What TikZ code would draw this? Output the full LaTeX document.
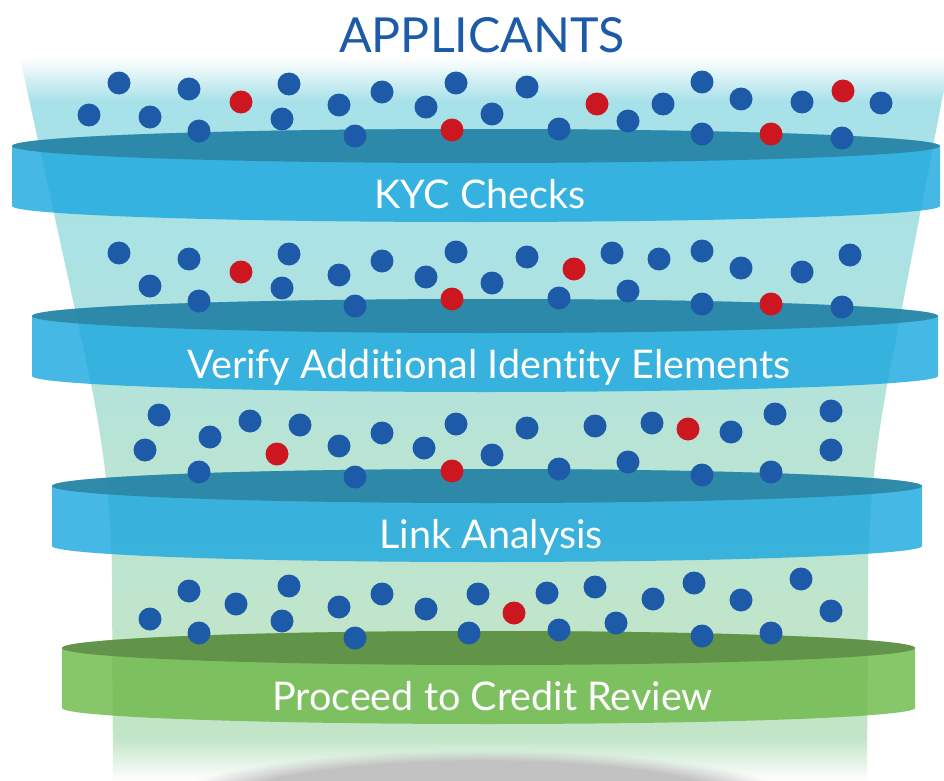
\documentclass[tikz,border=0pt]{standalone}
\usepackage{fontspec}
\setmainfont{Lato}[Ligatures=NoCommon]
\usepackage{tikz}
\usetikzlibrary{fadings}

\definecolor{dotblue}{HTML}{1D5AA7}
\definecolor{dotred}{HTML}{CD1720}
\definecolor{bandblue}{HTML}{1CA8DF}
\definecolor{bandtop}{HTML}{2C819E}
\definecolor{bandgreen}{HTML}{6EB949}
\definecolor{greentop}{HTML}{5C8A45}
\definecolor{funA}{HTML}{A7E1E9}
\definecolor{funB}{HTML}{ADE2E1}
\definecolor{funC}{HTML}{B9E4D5}
\definecolor{funD}{HTML}{C2E5C8}
\pgfdeclareverticalshading{funnelfill}{100bp}{color(0bp)=(white); color(25bp)=(white); color(28bp)=(funD); color(32bp)=(funD); color(48bp)=(funC); color(58bp)=(funB); color(72bp)=(funA); color(75bp)=(white); color(100bp)=(white)}

\begin{document}
\begin{tikzpicture}[x=0.02cm, y=-0.02cm,
    bluedot/.style={fill=dotblue},
    reddot/.style={fill=dotred},
    bandtext/.style={text=white, anchor=base, font=\fontsize{22.5}{26}\selectfont},
    titletext/.style={text=dotblue, anchor=base, font=\fontsize{27.5}{32}\selectfont}]
    \useasboundingbox (0,0) rectangle (944,781);
    \clip (0,0) rectangle (944,781);
    % funnel
    \shade[shading=funnelfill] (20,58) -- (86,360) .. controls (100,424) and (112,500) .. (112,580) -- (113,781)
        -- (867,781) -- (868,580) .. controls (868,500) and (879,424) .. (892,360) -- (950,58) -- cycle;
    \fill[black!24, path fading=circle with fuzzy edge 20 percent] (482,805) ellipse[x radius=320, y radius=55];
    \node[titletext] (title) at (482,52) {APPLICANTS};
    % bands
    \foreach \lx/\rx/\cy/\bodycol/\topcol/\lbl [count=\i] in {
        12/940/146/bandblue/bandtop/KYC Checks,
        32/938/316/bandblue/bandtop/Verify Additional Identity Elements,
        52/922/486/bandblue/bandtop/Link Analysis,
        62/915/648/bandgreen/greentop/Proceed to Credit Review} {
        \pgfmathsetmacro\mx{(\lx+\rx)/2}
        \pgfmathsetmacro\rad{(\rx-\lx)/2}
        \fill[\bodycol, opacity=0.82] (\lx,\cy) -- (\lx,\cy+60) arc[start angle=180, end angle=0, x radius=\rad, y radius=16]
            -- (\rx,\cy) arc[start angle=0, end angle=-180, x radius=\rad, y radius=17] -- cycle;
        \fill[\topcol, opacity=0.82] (\mx,\cy) ellipse[x radius=\rad, y radius=17];
        \node[bandtext] (band\i) at (\mx+4,\cy+62) {\lbl};
    }
    % applicants
    \foreach \p in {(119,83),(89,115),(150,117),(189,89),(199,131),(289,84),(282,119),(339,105),(355,136),(382,92),(426,107),(456,83),
        (492,114),(527,87),(559,129),(628,121),(663,104),(702,82),(702,134),(741,99),(802,102),(842,138),(881,103),
        (119,253),(150,286),(189,259),(199,301),(289,254),(282,288),(339,275),(355,306),(382,261),(426,277),(456,252),
        (492,283),(527,257),(559,298),(612,253),(628,291),(659,259),(702,251),(702,304),(741,268),(802,272),(842,307),(850,255),
        (159,415),(145,450),(210,437),(199,472),(250,421),(300,425),(339,446),(355,477),(382,433),(424,448),(456,424),
        (492,455),(527,428),(559,469),(595,426),(628,462),(652,423),(731,432),(702,475),(771,472),(775,414),(831,411),(831,450),
        (150,619),(189,591),(199,633),(236,604),(289,586),(282,621),(339,607),(355,638),(382,594),(426,609),(478,594),(469,633),
        (547,593),(559,630),(595,587),(616,623),(653,599),(694,583),(702,636),(741,600),(771,633),(801,579),(831,611)}
        \fill[bluedot] \p circle[radius=11.5];
    \foreach \p in {(241,102),(452,130),(597,104),(771,134),(843,91),(241,272),(452,299),(574,269),(771,304),
        (277,454),(452,471),(688,429),(514,613)}
        \fill[reddot] \p circle[radius=11.5];
\end{tikzpicture}
\end{document}
